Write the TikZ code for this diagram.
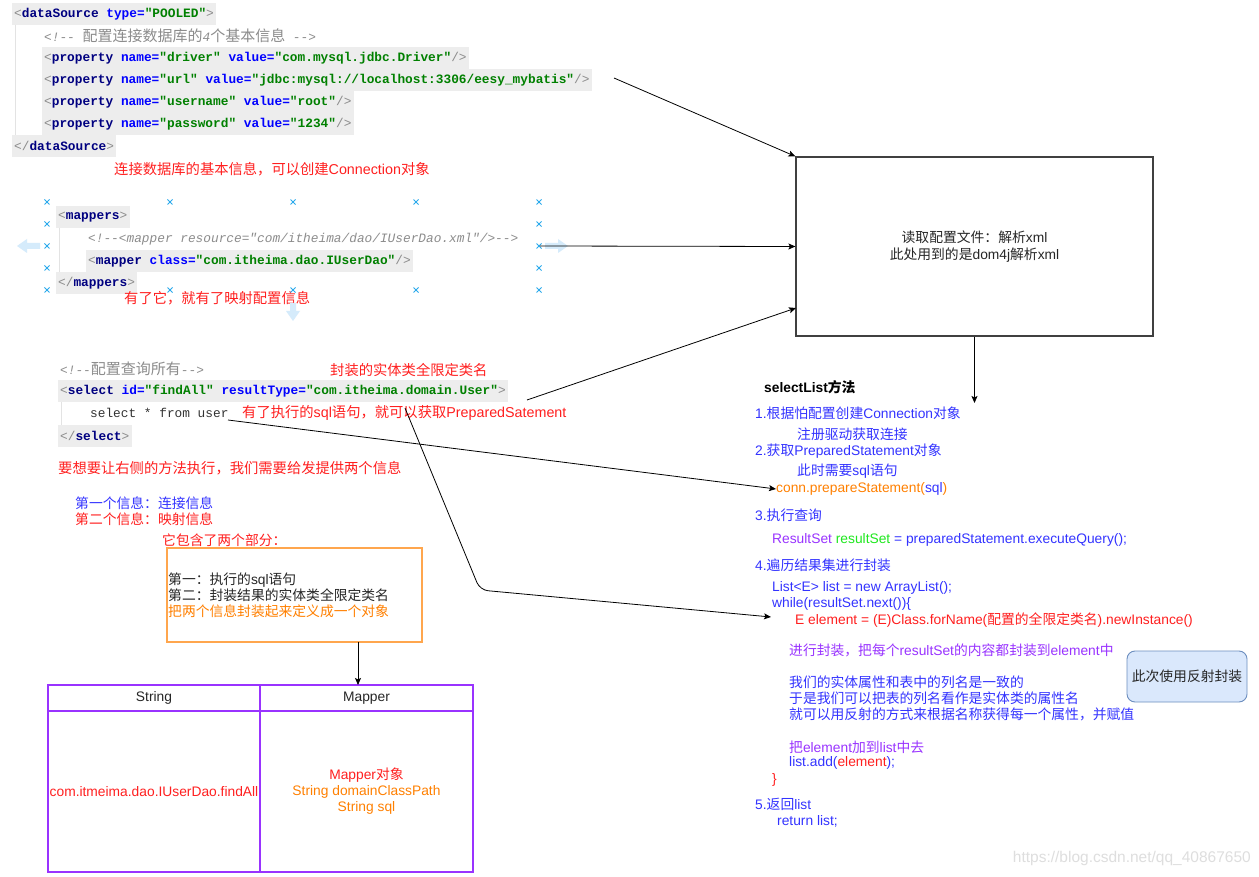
\documentclass[tikz,border=0pt]{standalone}
\usepackage{fontspec}
\setmainfont{Liberation Sans}
\setmonofont{Liberation Mono}
\newfontfamily\cjk{Noto Sans CJK SC}
\usetikzlibrary{arrows.meta}
% automatic switch to the CJK font for Chinese characters
\XeTeXinterchartokenstate=1
\newXeTeXintercharclass\zhclass
\newcount\zhc
\zhc="4E00 \loop\XeTeXcharclass\zhc=\zhclass\ifnum\zhc<"9FFF\advance\zhc by 1 \repeat
\zhc="3000 \loop\XeTeXcharclass\zhc=\zhclass\ifnum\zhc<"303F\advance\zhc by 1 \repeat
\zhc="FF00 \loop\XeTeXcharclass\zhc=\zhclass\ifnum\zhc<"FFEF\advance\zhc by 1 \repeat
\def\zhon{\cjk}\def\zhoff{\rmfamily}
\XeTeXinterchartoks 0 \zhclass={\zhon}
\XeTeXinterchartoks 4095 \zhclass={\zhon}
\XeTeXinterchartoks \zhclass 0={\zhoff}
\XeTeXinterchartoks \zhclass 4095={\zhoff}
\newcommand\codefont{\def\zhon{\cjk\fontsize{15}{17}\selectfont}\def\zhoff{\ttfamily\fontsize{12.8}{15}\selectfont}\zhoff}
\newcommand\txtfont{\def\zhon{\cjk}\def\zhoff{\rmfamily}\rmfamily\fontsize{13.8}{16}\selectfont}
\newcommand\notefont{\def\zhon{\cjk}\def\zhoff{\rmfamily}\rmfamily\fontsize{14.3}{17}\selectfont}
\definecolor{cred}{HTML}{FF1F1F}
\definecolor{cblue}{HTML}{3333FF}
\definecolor{cpurple}{HTML}{9933FF}
\definecolor{cgreen}{HTML}{1FE81F}
\definecolor{corange}{HTML}{FF8000}
\definecolor{navy}{HTML}{000080}
\definecolor{attr}{HTML}{0000FF}
\definecolor{valg}{HTML}{008000}
\definecolor{cmtg}{HTML}{8C8C8C}
\definecolor{codebg}{HTML}{EDEDED}
\definecolor{guide}{HTML}{E3E3E3}
\definecolor{cxcol}{HTML}{29A9EC}
\definecolor{ghostcol}{HTML}{D5EBFB}
\definecolor{obox}{HTML}{FFA64D}
\definecolor{bbfill}{HTML}{DAE8FC}
\definecolor{bbdraw}{HTML}{6C8EBF}
\newcommand\xbr[1]{{\color{cmtg}\mdseries#1}}
\newcommand\xtag[1]{{\color{navy}\bfseries#1}}
\newcommand\xatt[1]{{\color{attr}\bfseries#1}}
\newcommand\xval[1]{{\color{valg}\bfseries#1}}
\newcommand\xcmt[1]{{\color{cmtg}\itshape#1}}
\pgfdeclarelayer{bgl}
\pgfsetlayers{bgl,main}
\tikzset{
 code/.style={anchor=west, inner sep=0pt, font=\codefont, text=black!80},
 txt/.style={anchor=west, inner sep=0pt, font=\txtfont},
 note/.style={anchor=west, inner sep=0pt, font=\notefont, text=cred},
 arr/.style={draw=black, line width=0.8pt, -{Stealth[length=7pt,width=6pt,inset=1.5pt]}},
 cross/.style={draw=cxcol, line width=0.8pt},
 ghost/.style={fill=ghostcol},
 cell/.style={draw=cpurple, line width=1.3pt, inner sep=0pt, font=\txtfont, align=center},
 guideln/.style={draw=guide, line width=0.8pt},
}
\newcommand\hlt[1]{\fill[codebg] ([shift={(-2pt,11pt)}]#1.west) rectangle ([shift={(2pt,-11pt)}]#1.east);}
\newcommand\xmark[2]{\draw[cross] (#1-2.5,#2-2.5) -- (#1+2.5,#2+2.5) (#1-2.5,#2+2.5) -- (#1+2.5,#2-2.5);}
\begin{document}
\begin{tikzpicture}[x=1pt,y=-1pt]
\useasboundingbox (0,0) rectangle (1259,877);
% ---------- dataSource code ----------
\node[code] (c1) at (14,14) {\xbr{<}\xtag{dataSource} \xatt{type=}\xval{"POOLED"}\xbr{>}};
\node[code] (c2) at (44,36) {\xcmt{<!-- 配置连接数据库的4个基本信息 -->}};
\node[code] (c3) at (44,58) {\xbr{<}\xtag{property} \xatt{name=}\xval{"driver"} \xatt{value=}\xval{"com.mysql.jdbc.Driver"}\xbr{/>}};
\node[code] (c4) at (44,80) {\xbr{<}\xtag{property} \xatt{name=}\xval{"url"} \xatt{value=}\xval{"jdbc:mysql://localhost:3306/eesy\_mybatis"}\xbr{/>}};
\node[code] (c5) at (44,102) {\xbr{<}\xtag{property} \xatt{name=}\xval{"username"} \xatt{value=}\xval{"root"}\xbr{/>}};
\node[code] (c6) at (44,124) {\xbr{<}\xtag{property} \xatt{name=}\xval{"password"} \xatt{value=}\xval{"1234"}\xbr{/>}};
\node[code] (c7) at (14,146) {\xbr{</}\xtag{dataSource}\xbr{>}};
\node[note] (n1) at (114,169) {连接数据库的基本信息，可以创建Connection对象};
% ---------- mappers code ----------
\node[code] (m1) at (58,217) {\xbr{<}\xtag{mappers}\xbr{>}};
\node[code] (m2) at (88,239) {\xcmt{<!--<mapper resource="com/itheima/dao/IUserDao.xml"/>-->}};
\node[code] (m3) at (88,261) {\xbr{<}\xtag{mapper} \xatt{class=}\xval{"com.itheima.dao.IUserDao"}\xbr{/>}};
\node[code] (m4) at (58,283) {\xbr{</}\xtag{mappers}\xbr{>}};
\node[note] (n2) at (124,298) {有了它，就有了映射配置信息};
% selection artefacts
\foreach \xx in {47,170,293,416,539} {\xmark{\xx}{202}\xmark{\xx}{290}}
\foreach \yy in {224,246,268} {\xmark{47}{\yy}\xmark{539}{\yy}}
\fill[ghost] (17,246) -- (27,239) -- (27,243) -- (40,243) -- (40,249) -- (27,249) -- (27,253) -- cycle;
\fill[ghost] (568,246) -- (558,239) -- (558,243) -- (545,243) -- (545,249) -- (558,249) -- (558,253) -- cycle;
\fill[ghost] (293,321) -- (286,311) -- (290,311) -- (290,303) -- (296,303) -- (296,311) -- (300,311) -- cycle;
% ---------- select code ----------
\node[code] (s0) at (60,369) {\xcmt{<!--配置查询所有-->}};
\node[note] (n3) at (330,370) {封装的实体类全限定类名};
\node[code] (s1) at (60,391) {\xbr{<}\xtag{select} \xatt{id=}\xval{"findAll"} \xatt{resultType=}\xval{"com.itheima.domain.User"}\xbr{>}};
\node[code] (s2) at (90,413) {select * from user};
\node[note] (n4) at (242,413) {有了执行的sql语句，就可以获取PreparedSatement};
\node[code] (s3) at (60,436) {\xbr{</}\xtag{select}\xbr{>}};
\node[note] (n5) at (58,468) {要想要让右侧的方法执行，我们需要给发提供两个信息};
\node[txt, text=cblue] (n6) at (75,503) {第一个信息：连接信息};
\node[txt, text=cred] (n7) at (75,519) {第二个信息：映射信息};
\node[txt, text=cred] (n8) at (162,540) {它包含了两个部分：};
% background, code highlights and guides
\begin{pgfonlayer}{bgl}
\fill[white] (0,0) rectangle (1259,877);
\hlt{c1}\hlt{c3}\hlt{c4}\hlt{c5}\hlt{c6}\hlt{c7}
\hlt{m1}\hlt{m3}\hlt{m4}
\hlt{s1}\hlt{s3}
\draw[guideln] (15,25) -- (15,135);
\draw[guideln] (59,228) -- (59,272);
\draw[guideln] (61,402) -- (61,425);
\end{pgfonlayer}
% ---------- orange box ----------
\node[draw=obox, line width=1.2pt, minimum width=255pt, minimum height=94pt, inner sep=0pt] (ob) at (294.5,595) {};
\node[txt, align=left, text=black!85] (obt) at (168,595) {第一：执行的sql语句\\第二：封装结果的实体类全限定类名\\{\color{corange}把两个信息封装起来定义成一个对象}};
% ---------- table ----------
\node[cell, minimum width=212pt, minimum height=26pt, text=black!85] (th1) at (154,698) {String};
\node[cell, minimum width=213pt, minimum height=26pt, text=black!85] (th2) at (366.5,698) {Mapper};
\node[cell, minimum width=212pt, minimum height=161pt, text=cred] (tb1) at (154,791.5) {com.itmeima.dao.IUserDao.findAll};
\node[cell, minimum width=213pt, minimum height=161pt, text=corange] (tb2) at (366.5,791.5) {{\color{cred}Mapper对象}\\String domainClassPath\\String sql};
% ---------- reading box ----------
\node[draw=black!75, line width=1.2pt, minimum width=357pt, minimum height=179pt, align=center, font=\txtfont, text=black!85] (rd) at (974.5,246.5) {读取配置文件：解析xml\\[1pt]此处用到的是dom4j解析xml};
% ---------- selectList text ----------
\node[txt, font=\txtfont\bfseries] (rt0) at (764,387) {selectList方法};
\node[txt, text=cblue] (rt1) at (755,413) {1.根据怕配置创建Connection对象};
\node[txt, text=cblue] (rt2) at (797,434) {注册驱动获取连接};
\node[txt, text=cblue] (rt3) at (755,451) {2.获取PreparedStatement对象};
\node[txt, text=cblue] (rt4) at (797,471) {此时需要sql语句};
\node[txt, text=corange] (conn) at (776,489) {conn.prepareStatement({\color{cblue}sql})};
\node[txt, text=cblue] (rt5) at (755,515) {3.执行查询};
\node[txt, text=cblue] (rs) at (772,540) {{\color{cpurple}ResultSet} {\color{cgreen}resultSet} = preparedStatement.executeQuery();};
\node[txt, text=cblue] (rt6) at (755,565) {4.遍历结果集进行封装};
\node[txt, text=cblue] (rt7) at (772,588) {List<E> list = new ArrayList();};
\node[txt, text=cblue] (rt8) at (772,604) {while(resultSet.next())\{};
\node[txt, text=cred] (elem) at (795,620) {E element = (E)Class.forName(配置的全限定类名).newInstance()};
\node[txt, text=cpurple] (rt9) at (789,650) {进行封装，把每个resultSet的内容都封装到element中};
\node[txt, text=cblue] (rt10) at (789,682) {我们的实体属性和表中的列名是一致的};
\node[txt, text=cblue] (rt11) at (789,698) {于是我们可以把表的列名看作是实体类的属性名};
\node[txt, text=cblue] (rt12) at (789,714) {就可以用反射的方式来根据名称获得每一个属性，并赋值};
\node[txt, text=cpurple] (rt13) at (789,747) {把element加到list中去};
\node[txt, text=cblue] (rt14) at (789,763) {list.add({\color{cred}element});};
\node[txt, text=cred] (rt15) at (772,780) {\}};
\node[txt, text=cblue] (rt16) at (755,804) {5.返回list};
\node[txt, text=cblue] (rt17) at (777,821) {return list;};
% ---------- blue note ----------
\node[draw=bbdraw, fill=bbfill, line width=0.9pt, rounded corners=8pt, minimum width=120pt, minimum height=51pt, inner sep=2pt, font=\txtfont, text=black!85] (bb) at (1187,676.5) {此次使用反射封装};
% ---------- watermark ----------
\node[anchor=east, inner sep=0pt, text=black!13, font=\fontsize{15.5}{18}\selectfont] (wm) at (1251,858) {https://blog.csdn.net/qq\_40867650};
% ---------- connectors ----------
\coordinate (a1s) at (614,78);
\coordinate (a2s) at (540,246);
\coordinate (a3s) at (527,400);
\coordinate (a3e) at (796,308);
\coordinate (a4s) at (228,420);
\coordinate (a5s) at (405,408);
\coordinate (a5m) at (480,590);
\coordinate (a5e) at (771,617);
\coordinate (a6e) at (974.5,403);
\coordinate (a7s) at (358,642);
\coordinate (a7e) at (358,685);
\draw[arr] (a1s) -- (rd.north west);
\draw[arr] (a2s) -- (rd.west);
\draw[arr] (a3s) -- (a3e);
\draw[arr] (a4s) -- (conn.west);
\draw[arr, rounded corners=8pt] (a5s) -- (a5m) -- (a5e);
\draw[arr] (rd.south) -- (a6e);
\draw[arr] (a7s) -- (a7e);
\end{tikzpicture}
\end{document}
